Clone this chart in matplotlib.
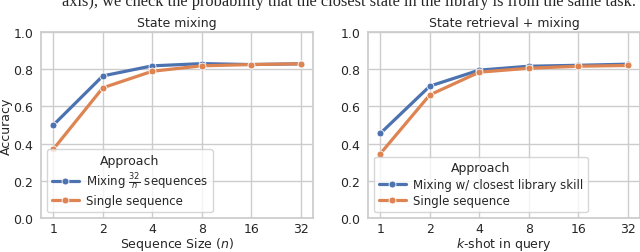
import matplotlib
matplotlib.use("Agg")
import matplotlib.pyplot as plt
import seaborn as sns
import numpy as np

sns.set_theme(style="whitegrid")
plt.rcParams['font.family'] = ['DejaVu Sans']

x_vals = [1, 2, 4, 8, 16, 32]
x_labels = ["1", "2", "4", "8", "16", "32"]

left_mixing = [0.500, 0.764, 0.818, 0.830, 0.825, 0.829]
left_single = [0.370, 0.700, 0.789, 0.818, 0.825, 0.829]
right_mixing = [0.455, 0.709, 0.795, 0.816, 0.821, 0.827]
right_single = [0.346, 0.662, 0.784, 0.805, 0.816, 0.820]

left_labels = [r"Mixing $\frac{32}{n}$ sequences", "Single sequence"]
right_labels = ["Mixing w/ closest library skill", "Single sequence"]

titles = ["State mixing", "State retrieval + mixing"]
xlabels = [r"Sequence Size ($n$)", r"$k$-shot in query"]

blue = "#4c72b0"
orange = "#dd8452"

fig = plt.figure(figsize=(6.4, 2.53), dpi=100)
axL = fig.add_axes([41/640, 34/253, 272/640, 186/253])
axR = fig.add_axes([368/640, 34/253, 272/640, 186/253])

for ax, mix, sing, labs, title, xl, ylab in [
    (axL, left_mixing, left_single, left_labels, titles[0], xlabels[0], "Accuracy"),
    (axR, right_mixing, right_single, right_labels, titles[1], xlabels[1], None),
]:
    ax.plot(x_vals, mix, color=blue, lw=2.3, marker="o", ms=5, mec="white", mew=0.6, label=labs[0])
    ax.plot(x_vals, sing, color=orange, lw=2.3, marker="o", ms=5, mec="white", mew=0.6, label=labs[1])
    ax.set_xscale("log", base=2)
    ax.set_xlim(2**-0.25, 2**5.25)
    ax.set_xticks(x_vals)
    ax.set_xticklabels(x_labels)
    ax.xaxis.set_minor_locator(matplotlib.ticker.NullLocator())
    ax.set_ylim(0, 1.0)
    ax.set_yticks([0, 0.2, 0.4, 0.6, 0.8, 1.0])
    ax.set_yticklabels(["0.0", "0.2", "0.4", "0.6", "0.8", "1.0"])
    ax.tick_params(axis="both", which="both", length=0, labelsize=9)
    ax.tick_params(axis="y", pad=5.5)
    ax.tick_params(axis="x", pad=3)
    ax.set_title(title, fontsize=9, pad=4)
    ax.set_xlabel(xl, fontsize=9)
    ax.xaxis.set_label_coords(0.5, -26/186)
    ax.xaxis.label.set_va("center")
    if ylab:
        ax.set_ylabel(ylab, fontsize=9)
        ax.yaxis.set_label_coords(-35/272, 0.5)
        ax.yaxis.label.set_va("center")
    leg = ax.legend(title="Approach", loc="lower left", fontsize=8.5, title_fontsize=9,
                    handlelength=2.3, borderpad=0.4, labelspacing=0.3, handletextpad=0.6)

fig.text(62/640, 1 - 5.7/253, "axis), we check the probability that the closest state in the library is from the same task.",
         family="Liberation Serif", fontsize=11.8, ha="left", va="baseline")

fig.savefig("out.png", dpi=100)
